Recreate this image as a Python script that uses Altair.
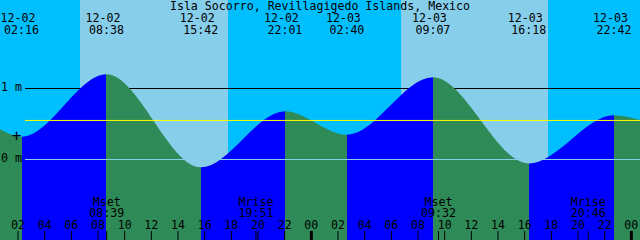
import altair as alt
import pandas as pd

# ---------------- data ----------------
title_text = "Isla Socorro, Revillagigedo Islands, Mexico"

tide_dates = ["12-02", "12-02", "12-02", "12-02", "12-03", "12-03", "12-03", "12-03"]
tide_times = ["02:16", "08:38", "15:42", "22:01", "02:40", "09:07", "16:18", "22:42"]
tide_kinds = ["low", "high", "low", "high", "low", "high", "low", "high"]
tide_heights = [0.32, 1.20, -0.11, 0.68, 0.35, 1.16, -0.055, 0.625]

# window start / end and the curve height at both edges
window_start = ["12-02", "00:39"]
window_end = ["12-04", "00:39"]
edge_heights = [0.425, 0.556]

sunrise = [["12-02", "06:39"], ["12-03", "06:44"]]
sunset = [["12-02", "17:45"], ["12-03", "17:45"]]

moon_dates = ["12-02", "12-02", "12-03", "12-03"]
moon_events = ["Mset", "Mrise", "Mset", "Mrise"]
moon_times = ["08:39", "19:51", "09:32", "20:46"]

hour_ticks = [2, 4, 6, 8, 10, 12, 14, 16, 18, 20, 22, 24,
              26, 28, 30, 32, 34, 36, 38, 40, 42, 44, 46, 48]

level_values = [1.0, 0.0, 0.55]
level_colors = ["black", "#87CEEB", "#FFFF00"]
axis_label_values = [1.0, 0.0]
axis_label_texts = ["1 m", "0 m"]

marker_time = ["12-02", "01:53"]
marker_height = 0.33

# ---------------- helpers ----------------
W, H = 640, 240
FONT = "DejaVu Sans Mono"
FS = 11.6
NIGHT, DAY = "#00BFFF", "#87CEEB"
RISE, FALL = "#0000FF", "#2E8B57"
Y_BOT = -80.5 / 71
Y_TOP = 159.5 / 71


def hours(date, hhmm):
    day = int(date[-2:]) - 2
    h, m = hhmm.split(":")
    return day * 24 + int(h) + int(m) / 60.0


T0 = hours(*window_start)
T1 = hours(*window_end)
xs = alt.Scale(domain=[T0, T1], nice=False, zero=False)
ys = alt.Scale(domain=[Y_BOT, Y_TOP], nice=False, zero=False)

tide_t = [hours(d, t) for d, t in zip(tide_dates, tide_times)]
tides = pd.DataFrame({"t": tide_t, "h": tide_heights, "date": tide_dates,
                      "time": tide_times, "kind": tide_kinds})

curve_h = [edge_heights[0]] + tide_heights + [edge_heights[1]]
curve = pd.DataFrame({"t": [T0] + tide_t + [T1], "h": curve_h,
                      "b": [Y_BOT] * len(curve_h)})

days = pd.DataFrame({"start": [hours(*s) for s in sunrise],
                     "end": [hours(*s) for s in sunset]})

moon = pd.DataFrame({"t": [hours(d, t) for d, t in zip(moon_dates, moon_times)],
                     "ev": moon_events, "time": moon_times})

ticks = pd.DataFrame({"t": hour_ticks,
                      "lab": [f"{h % 24:02d}" for h in hour_ticks],
                      "w": [3 if h % 24 == 0 else 1 for h in hour_ticks]})

levels = pd.DataFrame({"h": level_values, "c": level_colors})
ylabels = pd.DataFrame({"h": axis_label_values, "lab": axis_label_texts})
marker = pd.DataFrame({"t": [hours(*marker_time)], "h": [marker_height]})

# gradient for the water: blue while rising, green while falling
stops = [alt.GradientStop(offset=0, color=FALL)]
for t, k in zip(tide_t, tide_kinds):
    off = (t - T0) / (T1 - T0)
    if k == "low":
        stops += [alt.GradientStop(offset=off, color=FALL), alt.GradientStop(offset=off, color=RISE)]
    else:
        stops += [alt.GradientStop(offset=off, color=RISE), alt.GradientStop(offset=off, color=FALL)]
stops.append(alt.GradientStop(offset=1, color=FALL if tide_kinds[-1] == "high" else RISE))
water_grad = alt.Gradient(gradient="linear", stops=stops, x1=0, x2=1, y1=0, y2=0)

# ---------------- layers ----------------
day_rects = alt.Chart(days).mark_rect(color=DAY).encode(
    x=alt.X("start:Q", scale=xs, axis=None), x2="end:Q",
    y=alt.value(0), y2=alt.value(H))

black_line = alt.Chart(levels.iloc[[0]]).mark_rule(color="black", strokeWidth=1).encode(
    y=alt.Y("h:Q", scale=ys, axis=None), x=alt.value(25), x2=alt.value(W))

water = alt.Chart(curve).mark_area(interpolate="monotone", fill=water_grad, opacity=1).encode(
    x=alt.X("t:Q", scale=xs, axis=None),
    y=alt.Y("h:Q", scale=ys, axis=None),
    y2=alt.Y2("b:Q"))

other_lines = alt.Chart(levels.iloc[1:]).mark_rule(strokeWidth=1).encode(
    y=alt.Y("h:Q", scale=ys, axis=None), x=alt.value(25), x2=alt.value(W),
    color=alt.Color("c:N", scale=None))

plus = alt.Chart(marker).mark_text(text="+", font=FONT, fontSize=16, baseline="middle",
                                   align="center", color="black").encode(
    x=alt.X("t:Q", scale=xs, axis=None), y=alt.Y("h:Q", scale=ys, axis=None))

title = alt.Chart(pd.DataFrame({"s": [title_text]})).mark_text(
    font=FONT, fontSize=FS, color="black", align="center", baseline="alphabetic").encode(
    text="s:N", x=alt.value(W / 2), y=alt.value(10))

tide_dates_txt = alt.Chart(tides).mark_text(
    font=FONT, fontSize=FS, color="black", align="center", baseline="alphabetic", dx=-3.5).encode(
    x=alt.X("t:Q", scale=xs, axis=None), y=alt.value(22), text="date:N")

tide_times_txt = alt.Chart(tides).mark_text(
    font=FONT, fontSize=FS, color="black", align="center", baseline="alphabetic").encode(
    x=alt.X("t:Q", scale=xs, axis=None), y=alt.value(34), text="time:N")

ylab = alt.Chart(ylabels).mark_text(
    font=FONT, fontSize=FS, color="black", align="left", baseline="alphabetic", dy=2.5).encode(
    x=alt.value(1), y=alt.Y("h:Q", scale=ys, axis=None), text="lab:N")

hour_rules = alt.Chart(ticks).mark_rule(color="black").encode(
    x=alt.X("t:Q", scale=xs, axis=None), y=alt.value(231), y2=alt.value(H),
    strokeWidth=alt.StrokeWidth("w:Q", scale=None))

hour_labels = alt.Chart(ticks).mark_text(
    font=FONT, fontSize=FS, color="black", align="center", baseline="alphabetic").encode(
    x=alt.X("t:Q", scale=xs, axis=None), y=alt.value(229), text="lab:N")

moon_rules = alt.Chart(moon).mark_rule(color="black", strokeWidth=1).encode(
    x=alt.X("t:Q", scale=xs, axis=None), y=alt.value(231), y2=alt.value(H))

moon_ev = alt.Chart(moon).mark_text(
    font=FONT, fontSize=FS, color="black", align="center", baseline="alphabetic").encode(
    x=alt.X("t:Q", scale=xs, axis=None), y=alt.value(206), text="ev:N")

moon_tm = alt.Chart(moon).mark_text(
    font=FONT, fontSize=FS, color="black", align="center", baseline="alphabetic").encode(
    x=alt.X("t:Q", scale=xs, axis=None), y=alt.value(217), text="time:N")

chart = alt.layer(
    day_rects, black_line, water, other_lines, plus, title,
    tide_dates_txt, tide_times_txt, ylab,
    hour_rules, moon_rules, hour_labels, moon_ev, moon_tm
).properties(
    width=W, height=H, background=NIGHT, padding=0,
    autosize=alt.AutoSizeParams(type="none")
).configure_view(stroke=None)

chart.save("out.html", embed_options={"renderer": "svg", "actions": False})
